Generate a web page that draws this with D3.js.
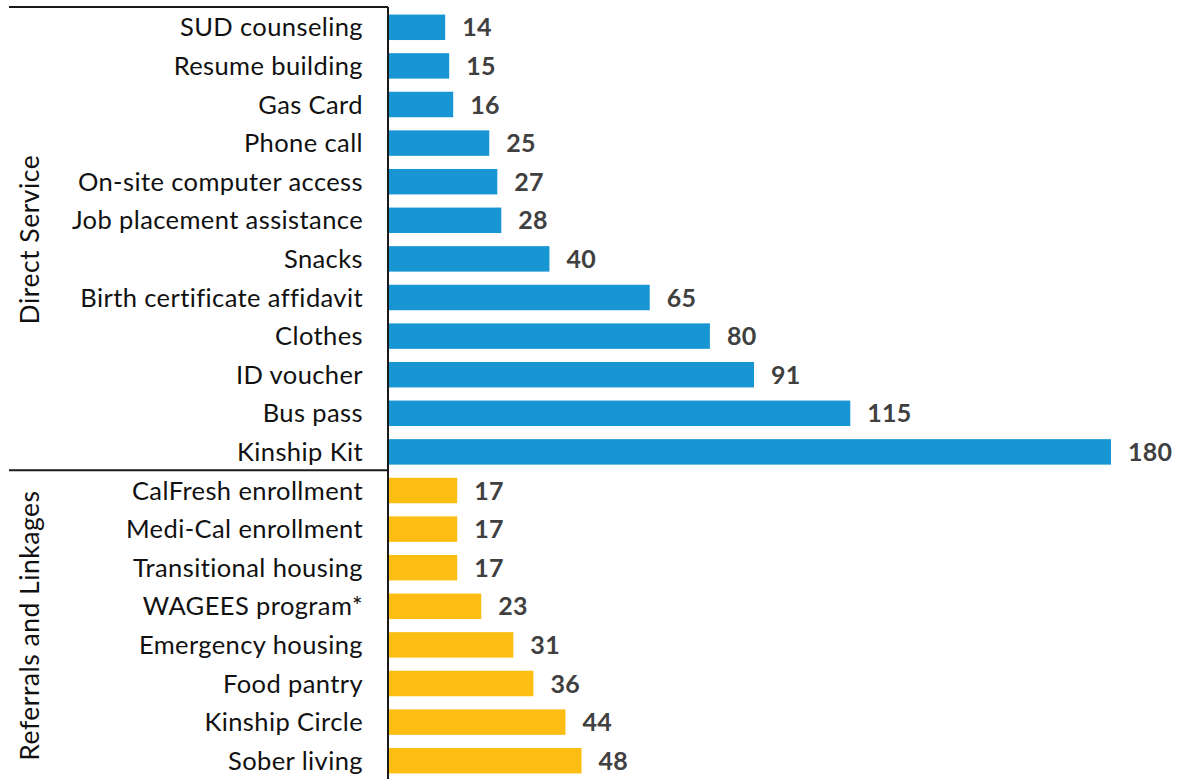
<!DOCTYPE html>
<html>
<head>
<meta charset="utf-8">
<script src="https://cdn.jsdelivr.net/npm/d3@7"></script>
<style>
  html, body { margin: 0; padding: 0; background: #fff; }
  svg { display: block; font-family: Lato, "Open Sans", sans-serif; }
</style>
</head>
<body>
<svg id="chart" width="1179" height="779"></svg>
<script>
// Services provided, grouped by type
const directServices = ["SUD counseling", "Resume building", "Gas Card", "Phone call",
  "On-site computer access", "Job placement assistance", "Snacks",
  "Birth certificate affidavit", "Clothes", "ID voucher", "Bus pass", "Kinship Kit"];
const directCounts = [14, 15, 16, 25, 27, 28, 40, 65, 80, 91, 115, 180];

const referralServices = ["CalFresh enrollment", "Medi-Cal enrollment", "Transitional housing",
  "WAGEES program*", "Emergency housing", "Food pantry", "Kinship Circle", "Sober living"];
const referralCounts = [17, 17, 17, 23, 31, 36, 44, 48];

const groupNames = ["Direct Service", "Referrals and Linkages"];
const groupColors = ["#1896d4", "#fdbe14"];

const rows = [
  ...directServices.map((name, i) => ({ name, value: directCounts[i], group: 0 })),
  ...referralServices.map((name, i) => ({ name, value: referralCounts[i], group: 1 }))
];

const svg = d3.select("#chart");
const axisX = 388, plotTop = 8, plotBottom = 780, leftEdge = 9;

const y = d3.scaleBand()
  .domain(rows.map(d => d.name))
  .range([plotTop, plotBottom])
  .paddingInner(0.34)
  .paddingOuter(0.17);

const x = d3.scaleLinear().domain([0, 180]).range([axisX + 1, 1111]);

// Bars
svg.append("g").selectAll("rect")
  .data(rows)
  .join("rect")
  .attr("x", x(0))
  .attr("y", d => y(d.name))
  .attr("width", d => x(d.value) - x(0))
  .attr("height", y.bandwidth())
  .attr("fill", d => groupColors[d.group]);

// Value labels
svg.append("g").selectAll("text")
  .data(rows)
  .join("text")
  .attr("x", d => x(d.value) + 17)
  .attr("y", d => y(d.name) + y.bandwidth() / 2)
  .attr("dy", "0.36em")
  .attr("font-size", 25)
  .attr("font-weight", 700)
  .attr("letter-spacing", 0.3)
  .attr("fill", "#404040")
  .text(d => d.value);

// Category labels
svg.append("g").selectAll("text")
  .data(rows)
  .join("text")
  .attr("x", 363)
  .attr("y", d => y(d.name) + y.bandwidth() / 2)
  .attr("dy", "0.36em")
  .attr("text-anchor", "end")
  .attr("font-size", 25.5)
  .attr("letter-spacing", 0.4)
  .attr("fill", "#111")
  .text(d => d.name);

// Group boundaries
const step = y.step();
const groupStart = [plotTop, plotTop + directServices.length * step];
const groupEnd = [groupStart[1], plotBottom];

const lines = svg.append("g").attr("stroke", "#1a1a1a").attr("stroke-width", 2);
lines.append("line").attr("x1", axisX).attr("x2", axisX).attr("y1", plotTop - 1).attr("y2", 779);
groupStart.forEach(gy => {
  lines.append("line").attr("x1", leftEdge).attr("x2", axisX).attr("y1", gy - 1).attr("y2", gy - 1);
});

// Group labels, rotated
svg.append("g").selectAll("text")
  .data(groupNames)
  .join("text")
  .attr("transform", (d, i) => `translate(29,${(groupStart[i] + groupEnd[i]) / 2}) rotate(-90)`)
  .attr("dy", "0.36em")
  .attr("text-anchor", "middle")
  .attr("font-size", 26.5)
  .attr("letter-spacing", 0.5)
  .attr("fill", "#111")
  .text(d => d);
</script>
</body>
</html>
